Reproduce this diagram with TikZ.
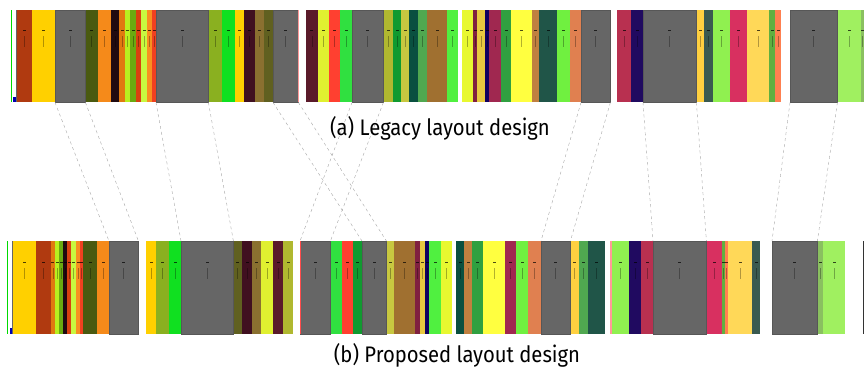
\documentclass[tikz,border=0pt]{standalone}
\usepackage{fontspec}
\newfontfamily\capfont[FakeStretch=0.9]{Fira Sans}

%% stripe colours
\definecolor{brick}{HTML}{B03A10}
\definecolor{gold}{HTML}{FFD000}
\definecolor{slab}{HTML}{666666}
\definecolor{moss}{HTML}{4A5A10}
\definecolor{tangerine}{HTML}{F58A1A}
\definecolor{soot}{HTML}{200A10}
\definecolor{amber}{HTML}{E07A10}
\definecolor{lime}{HTML}{B8F020}
\definecolor{leaf}{HTML}{6AAA10}
\definecolor{rust}{HTML}{D84010}
\definecolor{chartreuse}{HTML}{C8F840}
\definecolor{apricot}{HTML}{F89020}
\definecolor{scarlet}{HTML}{F04020}
\definecolor{olivine}{HTML}{8AB020}
\definecolor{neon}{HTML}{10E020}
\definecolor{wine}{HTML}{401020}
\definecolor{khaki}{HTML}{8A7030}
\definecolor{olive}{HTML}{606020}
\definecolor{plum}{HTML}{5A1A2A}
\definecolor{lemon}{HTML}{E0F030}
\definecolor{tomato}{HTML}{FF4030}
\definecolor{mint}{HTML}{30E040}
\definecolor{mustard}{HTML}{B0B830}
\definecolor{forest}{HTML}{109A30}
\definecolor{sand}{HTML}{C8C840}
\definecolor{pine}{HTML}{0A5040}
\definecolor{fern}{HTML}{50A850}
\definecolor{umber}{HTML}{A07030}
\definecolor{spring}{HTML}{50F040}
\definecolor{citron}{HTML}{E8F830}
\definecolor{berry}{HTML}{802040}
\definecolor{honey}{HTML}{E8C840}
\definecolor{ink}{HTML}{100060}
\definecolor{raspberry}{HTML}{A02850}
\definecolor{clover}{HTML}{30A040}
\definecolor{canary}{HTML}{FFFF40}
\definecolor{copper}{HTML}{C08040}
\definecolor{teal}{HTML}{205548}
\definecolor{apple}{HTML}{70F040}
\definecolor{salmon}{HTML}{E08050}
\definecolor{rose}{HTML}{B83050}
\definecolor{indigo}{HTML}{200A60}
\definecolor{marigold}{HTML}{FFD040}
\definecolor{slate}{HTML}{3A5A50}
\definecolor{pistachio}{HTML}{90F050}
\definecolor{cerise}{HTML}{D83060}
\definecolor{butter}{HTML}{FFD858}
\definecolor{sage}{HTML}{60B040}
\definecolor{coral}{HTML}{FF8050}
\definecolor{celery}{HTML}{A0F060}
\definecolor{fennel}{HTML}{8AC060}

\tikzset{
    slabblock/.style={fill=slab,draw=slab!85!black,line width=0.4pt,inner sep=0pt,anchor=north west},
    tagmark/.style={fill=black,opacity=0.7},
    stemmark/.style={fill=black,opacity=0.3},
    moveline/.style={dashed,gray!70,line width=0.4pt},
    caption/.style={font=\capfont\fontsize{22.5}{26}\selectfont,text=black}
}

\begin{document}
\begin{tikzpicture}[x=1pt,y=-1pt]
        \useasboundingbox (0,0) rectangle (864,367);
        %% legacy row
        \foreach \a/\b/\c in {16.7/32/brick,32/55/gold,85/98/moss,98/111/tangerine,111/119/soot,
                              119/125/amber,125/130/lime,130/136/leaf,136/141/rust,141/147/chartreuse,
                              147/152/apricot,152/156/scarlet,208/222/olivine,222/235/neon,235/244/gold,
                              244/255/wine,255/264/khaki,264/273/olive,
                              305.7/318/plum,318/329/lemon,329/340/tomato,340/352/mint,383/393/mustard,
                              393/401/forest,401/409/sand,409/418/pine,418/427/fern,427/447/umber,447/458/spring,
                              462/473/citron,473/477/berry,477/485/honey,485/489/ink,489/501/raspberry,
                              501/511/clover,511/532/canary,532/539/copper,539/557/teal,557/570/apple,570/581/salmon,
                              617/631/rose,631/643/indigo,696/704/marigold,704/713/slate,713/730/pistachio,
                              730/747/cerise,747/769/butter,769/775/sage,775/781/coral,837/861/celery,861/864/fennel} {
            \fill[\c] (\a,10) rectangle (\b,102);
            \fill[tagmark] ({(\a+\b)/2-1.5},29.5) rectangle ++(3,1);
            \fill[stemmark] ({(\a+\b)/2-0.3},36) rectangle ++(0.6,11);
        }
        \foreach \n/\a/\b in {1/55/85,2/156/208,3/273/298,4/352/383,5/581/610,6/643/696,7/790/837} {
            \node[slabblock,minimum width={(\b-\a)*1pt},minimum height=92pt] (old\n) at (\a,10) {};
            \fill[tagmark] ({(\a+\b)/2-1.5},29.5) rectangle ++(3,1);
            \fill[stemmark] ({(\a+\b)/2-0.3},36) rectangle ++(0.6,11);
        }
        \fill[green!85!black] (10.5,10) rectangle (12,102);
        \fill[black!60] (15.7,10) rectangle (16.7,102);
        \fill[blue!70!black] (13,97) rectangle (16,102);
        \fill[pink!80!red] (298,10) rectangle (299,102);

        %% proposed row
        \foreach \a/\b/\c in {12.7/36/gold,36/50.7/brick,50.7/55/amber,55/59/lime,59/63/leaf,63/67/soot,
                              67/71/rust,71/76/chartreuse,76/80/apricot,80/83/scarlet,83/97/moss,97/109/tangerine,
                              146/156/gold,156/169/olivine,169/181/neon,233/242/olive,242/252/wine,252/261/khaki,
                              261/273/lemon,273/283/plum,283/293/mustard,
                              330/342/mint,342/353/tomato,353/362/forest,386/394/sand,394/415/umber,415/420/berry,
                              420/425/honey,425/429/ink,429/441/spring,441/452/citron,
                              456/464/pine,464/472/copper,472/483/clover,483/505/canary,505/516/raspberry,
                              516/528/apple,528/541/salmon,570/579/marigold,579/588/fern,588/605/teal,
                              612/629/pistachio,629/641/indigo,641/653/rose,706/722/cerise,722/725/sage,
                              725/728/coral,728/752/butter,752/760/slate,817/823/fennel,823/845/celery} {
            \fill[\c] (\a,241) rectangle (\b,334);
            \fill[tagmark] ({(\a+\b)/2-1.5},262) rectangle ++(3,1);
            \fill[stemmark] ({(\a+\b)/2-0.3},268) rectangle ++(0.6,11);
        }
        \foreach \n/\a/\b in {1/109/138,2/181/233,3/362/386,4/300/330,5/541/570,6/653/706,7/772/817} {
            \node[slabblock,minimum width={(\b-\a)*1pt},minimum height=93pt] (new\n) at (\a,241) {};
            \fill[tagmark] ({(\a+\b)/2-1.5},262) rectangle ++(3,1);
            \fill[stemmark] ({(\a+\b)/2-0.3},268) rectangle ++(0.6,11);
        }
        \fill[green!85!black] (6.5,241) rectangle (8,334);
        \fill[black!60] (11.7,241) rectangle (12.7,334);
        \fill[blue!70!black] (9.5,328) rectangle (12,334);
        \fill[red!70] (299.5,241) rectangle (300.5,334);
        \fill[pink!80!red] (610,241) rectangle (612,334);
        \fill[black!80] (862.5,241) rectangle (864,334);

        %% moved blocks
        \foreach \n in {1,...,7} {
            \draw[moveline] (old\n.south west) -- (new\n.north west);
            \draw[moveline] (old\n.south east) -- (new\n.north east);
        }

        %% captions
        \node[caption] (legacy) at (440,128) {(a) Legacy layout design};
        \node[caption] (proposed) at (457,355) {(b) Proposed layout design};
    \end{tikzpicture}
\end{document}
